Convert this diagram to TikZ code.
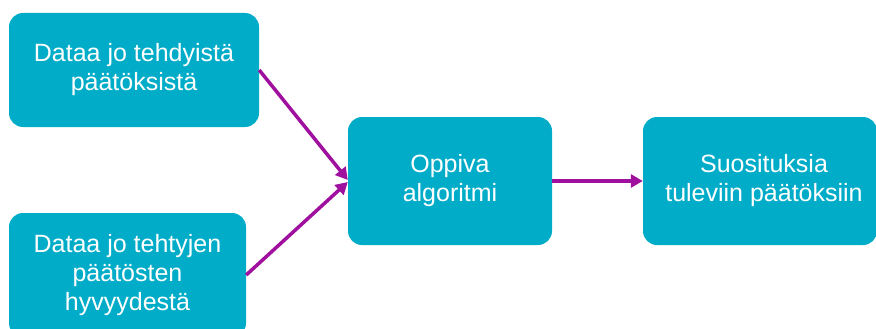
\documentclass[tikz,border=0pt]{standalone}
\usepackage{fontspec}
\setmainfont{Liberation Sans}
\usetikzlibrary{arrows.meta}
\definecolor{boxteal}{RGB}{0,172,200}
\definecolor{arrowmag}{RGB}{160,16,158}
\tikzset{
  box/.style={rectangle, rounded corners=14pt, fill=boxteal, text=white,
    align=center, inner sep=0pt, font=\fontsize{25}{29}\selectfont},
  conn/.style={draw=arrowmag, line width=3.5pt,
    -{Triangle[length=12pt,width=13pt]}}
}
\begin{document}
\begin{tikzpicture}[x=1pt,y=-1pt]
\useasboundingbox (0,0) rectangle (876,329);
\clip (0,0) rectangle (876,329);
\node[box, minimum width=250pt, minimum height=114pt] (b1) at (134,70)
  {Dataa jo tehdyistä\\päätöksistä};
\node[box, minimum width=237pt, minimum height=124pt] (b2) at (127.5,275)
  {Dataa jo tehtyjen\\päätösten\\hyvyydestä};
\node[box, minimum width=204pt, minimum height=128pt] (b3) at (450,181)
  {Oppiva\\algoritmi};
\node[box, minimum width=234pt, minimum height=128pt] (b4) at (760,181)
  {\hspace*{8pt}Suosituksia\\\hspace*{8pt}tuleviin päätöksiin};
\draw[conn] (b1.east) -- ([yshift=1pt]b3.west);
\draw[conn] (b2.east) -- ([yshift=-1pt]b3.west);
\draw[conn] (b3.east) -- (b4.west);
\end{tikzpicture}
\end{document}
